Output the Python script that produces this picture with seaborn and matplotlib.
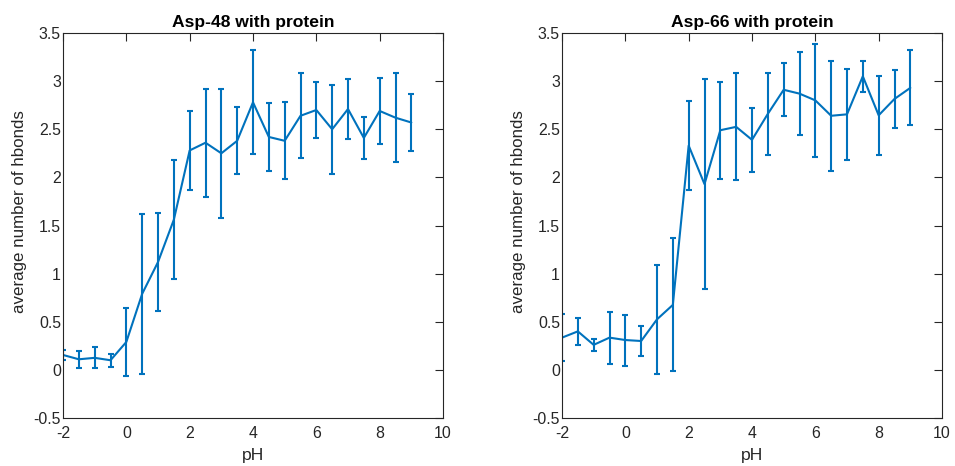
import numpy as np
import pandas as pd
import matplotlib
matplotlib.use("Agg")
import matplotlib.pyplot as plt
import seaborn as sns

ph = [-2, -1.5, -1, -0.5, 0, 0.5, 1, 1.5, 2, 2.5, 3, 3.5, 4, 4.5, 5, 5.5,
      6, 6.5, 7, 7.5, 8, 8.5, 9]

asp48_mean = [0.155, 0.11, 0.125, 0.10, 0.29, 0.79, 1.12, 1.56, 2.28, 2.36,
              2.25, 2.38, 2.78, 2.42, 2.38, 2.64, 2.70, 2.50, 2.71, 2.41,
              2.69, 2.62, 2.57]
asp48_err = [0.055, 0.09, 0.11, 0.065, 0.35, 0.83, 0.51, 0.62, 0.41, 0.56,
             0.67, 0.35, 0.54, 0.35, 0.40, 0.44, 0.29, 0.46, 0.31, 0.22,
             0.34, 0.46, 0.30]

asp66_mean = [0.335, 0.40, 0.26, 0.335, 0.31, 0.30, 0.525, 0.675, 2.33, 1.93,
              2.49, 2.525, 2.39, 2.66, 2.91, 2.87, 2.80, 2.64, 2.655, 3.05,
              2.645, 2.815, 2.93]
asp66_err = [0.245, 0.14, 0.065, 0.27, 0.265, 0.16, 0.565, 0.69, 0.46, 1.09,
             0.505, 0.555, 0.335, 0.425, 0.275, 0.43, 0.59, 0.57, 0.475, 0.16,
             0.41, 0.30, 0.39]

titles = ["Asp-48 with protein", "Asp-66 with protein"]
xlabel = "pH"
ylabel = "average number of hbonds"
xticks = [-2, 0, 2, 4, 6, 8, 10]
yticks = [-0.5, 0, 0.5, 1, 1.5, 2, 2.5, 3, 3.5]

sns.set_style("white")
plt.rcParams["font.family"] = ["Liberation Sans", "DejaVu Sans"]

color = "#0072BD"
axc = "#262626"

fig = plt.figure(figsize=(9.55, 4.66), dpi=100)
W, H = 955, 466
rects = [(63, 33, 443, 418), (562, 33, 942, 418)]

for (x0, y0, x1, y1), title, mean, err in zip(
        rects, titles, [asp48_mean, asp66_mean], [asp48_err, asp66_err]):
    ax = fig.add_axes([x0 / W, 1 - y1 / H, (x1 - x0) / W, (y1 - y0) / H])
    df = pd.DataFrame({"pH": ph, "mean": mean, "err": err})
    sns.lineplot(data=df, x="pH", y="mean", ax=ax, color=color, lw=1.5)
    ax.errorbar(df["pH"], df["mean"], yerr=df["err"], fmt="none",
                ecolor=color, elinewidth=1.5, capsize=2.2, capthick=1.5)
    ax.set_xlim(-2, 10)
    ax.set_ylim(-0.5, 3.5)
    ax.set_xticks(xticks)
    ax.set_yticks(yticks)
    ax.set_xticklabels([f"{t:g}" for t in xticks])
    ax.set_yticklabels([f"{t:g}" for t in yticks])
    ax.tick_params(direction="in", length=5.8, width=0.8, colors=axc,
                   labelsize=11.4, top=True, right=True, labelcolor=axc)
    ax.tick_params(axis="y", pad=1.5)
    ax.tick_params(axis="x", pad=6)
    for s in ax.spines.values():
        s.set_visible(True)
        s.set_color(axc)
        s.set_linewidth(0.8)
    ax.set_xlabel(xlabel, fontsize=12.6, color=axc, labelpad=5)
    ax.set_ylabel(ylabel, fontsize=12.2, color=axc, labelpad=5, y=0.537)
    ax.set_title(title, fontsize=12.6, fontweight="bold", color="black", pad=4)

fig.savefig("out.png", dpi=100)
